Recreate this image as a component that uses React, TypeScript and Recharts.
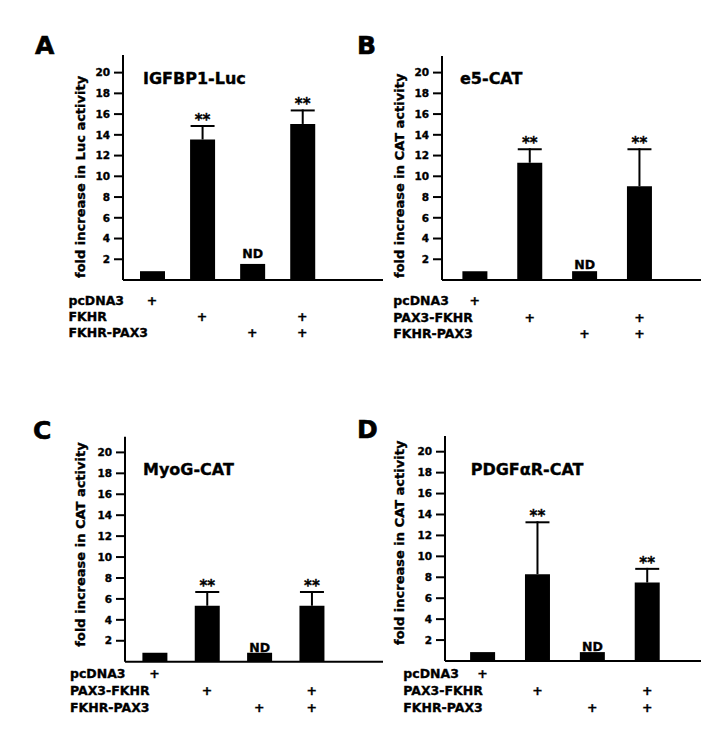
import React from 'react';
import { BarChart, Bar, XAxis, YAxis, Customized } from 'recharts';

const FONT = "'DejaVu Sans', 'Liberation Sans', sans-serif";
const TS = 0.35; // slight text stroke to match the heavy print weight

// ---------- data ----------
const yTicks = [2, 4, 6, 8, 10, 12, 14, 16, 18, 20];

const catsA = ['pcDNA3', 'FKHR', 'FKHR-PAX3', 'FKHR + FKHR-PAX3'];
const meanA = [0.85, 13.55, 1.55, 15.05];
const errA = [0, 1.4, 0, 1.4];
const markA = ['', '**', 'ND', '**'];
const rowsA = ['pcDNA3', 'FKHR', 'FKHR-PAX3'];
const plusA = [
  [1, 0, 0, 0],
  [0, 1, 0, 1],
  [0, 0, 1, 1],
];

const catsB = ['pcDNA3', 'PAX3-FKHR', 'FKHR-PAX3', 'PAX3-FKHR + FKHR-PAX3'];
const meanB = [0.85, 11.3, 0.85, 9.05];
const errB = [0, 1.4, 0, 3.65];
const markB = ['', '**', 'ND', '**'];
const rowsB = ['pcDNA3', 'PAX3-FKHR', 'FKHR-PAX3'];
const plusB = [
  [1, 0, 0, 0],
  [0, 1, 0, 1],
  [0, 0, 1, 1],
];

const catsC = ['pcDNA3', 'PAX3-FKHR', 'FKHR-PAX3', 'PAX3-FKHR + FKHR-PAX3'];
const meanC = [0.85, 5.35, 0.85, 5.35];
const errC = [0, 1.4, 0, 1.4];
const markC = ['', '**', 'ND', '**'];
const rowsC = ['pcDNA3', 'PAX3-FKHR', 'FKHR-PAX3'];
const plusC = [
  [1, 0, 0, 0],
  [0, 1, 0, 1],
  [0, 0, 1, 1],
];

const catsD = ['pcDNA3', 'PAX3-FKHR', 'FKHR-PAX3', 'PAX3-FKHR + FKHR-PAX3'];
const meanD = [0.85, 8.3, 0.85, 7.5];
const errD = [0, 5.05, 0, 1.4];
const markD = ['', '**', 'ND', '**'];
const rowsD = ['pcDNA3', 'PAX3-FKHR', 'FKHR-PAX3'];
const plusD = [
  [1, 0, 0, 0],
  [0, 1, 0, 1],
  [0, 0, 1, 1],
];

// ---------- layout ----------
const W = 711;
const H = 745;
const YAXIS_W = 60;
const XAXIS_H = 30;

type Layout = {
  letter: string; letterX: number; letterY: number;
  title: string; titleX: number; titleY: number;
  ylabel: string; ylabelX: number; ylabelY: number;
  plotLeft: number; plotRight: number; plotTop: number; baseline: number;
  yMax: number; padL: number; padR: number;
  rowLabelX: number; rowY0: number; rowDy: number; ndGap: number;
};

const layoutA: Layout = {
  letter: 'A', letterX: 35, letterY: 54,
  title: 'IGFBP1-Luc', titleX: 143, titleY: 83.5,
  ylabel: 'fold increase in Luc activity', ylabelX: 85, ylabelY: 278,
  plotLeft: 123, plotRight: 383, plotTop: 55, baseline: 280,
  yMax: 21.7, padL: 4, padR: 55.7,
  rowLabelX: 68.5, rowY0: 25, rowDy: 16, ndGap: 6,
};
const layoutB: Layout = {
  letter: 'B', letterX: 357, letterY: 54,
  title: 'e5-CAT', titleX: 460, titleY: 83.5,
  ylabel: 'fold increase in CAT activity', ylabelX: 404, ylabelY: 278,
  plotLeft: 442, plotRight: 701, plotTop: 56, baseline: 280,
  yMax: 21.6, padL: 5.4, padR: 34.2,
  rowLabelX: 393.3, rowY0: 25, rowDy: 16.5, ndGap: 2.5,
};
const layoutC: Layout = {
  letter: 'C', letterX: 33, letterY: 439,
  title: 'MyoG-CAT', titleX: 143, titleY: 475,
  ylabel: 'fold increase in CAT activity', ylabelX: 85, ylabelY: 646.7,
  plotLeft: 125, plotRight: 383, plotTop: 436.7, baseline: 661.7,
  yMax: 21.5, padL: 3.4, padR: 45.2,
  rowLabelX: 70, rowY0: 16.6, rowDy: 16.7, ndGap: 1,
};
const layoutD: Layout = {
  letter: 'D', letterX: 357, letterY: 437.5,
  title: 'PDGF\u03B1R-CAT', titleX: 470.7, titleY: 475,
  ylabel: 'fold increase in CAT activity', ylabelX: 404, ylabelY: 645,
  plotLeft: 445, plotRight: 701, plotTop: 436, baseline: 661,
  yMax: 21.5, padL: 10.1, padR: 26.4,
  rowLabelX: 403.3, rowY0: 17.3, rowDy: 16.7, ndGap: 1,
};

// ---------- components ----------
const ErrShape = (props: any) => {
  const { x, y, width, height, payload, ndGap } = props;
  const cx = x + width / 2;
  const mark = payload?.mark;
  if (!height || height <= 0) {
    return (
      <g>
        {mark ? (
          <text x={cx} y={y - ndGap} textAnchor="middle" fontFamily={FONT} fontWeight="bold" fontSize={12.5} fill="#000" stroke="#000" strokeWidth={TS}>
            {mark}
          </text>
        ) : null}
      </g>
    );
  }
  return (
    <g>
      <line x1={cx} x2={cx} y1={y} y2={y + height} stroke="#000" strokeWidth={2} />
      <line x1={cx - 12} x2={cx + 12} y1={y + 1} y2={y + 1} stroke="#000" strokeWidth={2} />
      {mark ? (
        <text x={cx} y={y} textAnchor="middle" fontFamily={FONT} fontWeight="bold" fontSize={15} fill="#000" stroke="#000" strokeWidth={TS}>
          {mark}
        </text>
      ) : null}
    </g>
  );
};

const TableTick = (props: any) => {
  const { x, y, index, rows, plus, lay } = props;
  return (
    <g fontFamily={FONT} fontWeight="bold" fontSize={12.5} fill="#000" stroke="#000" strokeWidth={TS}>
      {rows.map((r: string, ri: number) => (
        <g key={ri}>
          {index === 0 ? (
            <text x={lay.rowLabelX} y={y + lay.rowY0 + ri * lay.rowDy} textAnchor="start">{r}</text>
          ) : null}
          {plus[ri][index] ? (
            <text x={x} y={y + lay.rowY0 + ri * lay.rowDy} textAnchor="middle">+</text>
          ) : null}
        </g>
      ))}
    </g>
  );
};

type PanelProps = {
  cats: string[]; mean: number[]; err: number[]; mark: string[];
  rows: string[]; plus: number[][]; lay: Layout;
};

const Panel = ({ cats, mean, err, mark, rows, plus, lay }: PanelProps) => {
  const data = cats.map((c, i) => ({ name: c, mean: mean[i], err: err[i], mark: mark[i] }));
  return (
    <div style={{ position: 'absolute', left: 0, top: 0, width: W, height: H }}>
      <BarChart
        width={W}
        height={H}
        data={data}
        margin={{
          top: lay.plotTop,
          left: lay.plotLeft - YAXIS_W,
          right: W - lay.plotRight,
          bottom: H - lay.baseline - XAXIS_H,
        }}
      >
        <XAxis
          dataKey="name"
          height={XAXIS_H}
          interval={0}
          padding={{ left: lay.padL, right: lay.padR }}
          axisLine={{ stroke: '#000', strokeWidth: 2 }}
          tickLine={false}
          tickSize={0}
          tickMargin={0}
          tick={(p: any) => <TableTick {...p} rows={rows} plus={plus} lay={lay} />}
        />
        <YAxis
          width={YAXIS_W}
          domain={[0, lay.yMax]}
          ticks={yTicks}
          allowDataOverflow
          interval={0}
          axisLine={{ stroke: '#000', strokeWidth: 2 }}
          tickLine={{ stroke: '#000', strokeWidth: 2 }}
          tickSize={9}
          tickMargin={4}
          tick={{ fill: '#000', stroke: '#000', strokeWidth: TS, fontSize: 10.5, fontWeight: 'bold', fontFamily: FONT }}
        />
        <Bar dataKey="mean" stackId="s" fill="#000" barSize={25} isAnimationActive={false} />
        <Bar
          dataKey="err"
          stackId="s"
          fill="none"
          barSize={25}
          isAnimationActive={false}
          shape={(p: any) => <ErrShape {...p} ndGap={lay.ndGap} />}
        />
        <Customized
          component={() => (
            <g fontFamily={FONT} fontWeight="bold" fill="#000" stroke="#000" strokeWidth={TS}>
              <text x={lay.letterX} y={lay.letterY} fontSize={25} strokeWidth={0.6}>{lay.letter}</text>
              <text x={lay.titleX} y={lay.titleY} fontSize={16}>{lay.title}</text>
              <text
                x={lay.ylabelX}
                y={lay.ylabelY}
                fontSize={13}
                textAnchor="start"
                transform={`rotate(-90 ${lay.ylabelX} ${lay.ylabelY})`}
              >
                {lay.ylabel}
              </text>
            </g>
          )}
        />
      </BarChart>
    </div>
  );
}

export default function App() {
  return (
    <div style={{ position: 'absolute', left: 0, top: 0, width: W, height: H, background: '#fff', overflow: 'hidden' }}>
      <Panel cats={catsA} mean={meanA} err={errA} mark={markA} rows={rowsA} plus={plusA} lay={layoutA} />
      <Panel cats={catsB} mean={meanB} err={errB} mark={markB} rows={rowsB} plus={plusB} lay={layoutB} />
      <Panel cats={catsC} mean={meanC} err={errC} mark={markC} rows={rowsC} plus={plusC} lay={layoutC} />
      <Panel cats={catsD} mean={meanD} err={errD} mark={markD} rows={rowsD} plus={plusD} lay={layoutD} />
    </div>
  );
}
